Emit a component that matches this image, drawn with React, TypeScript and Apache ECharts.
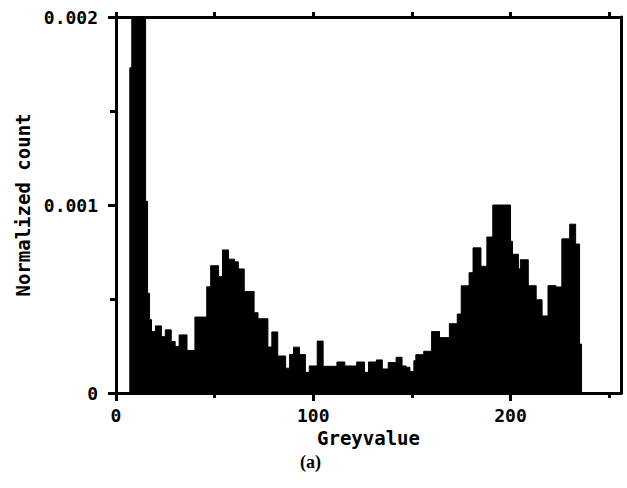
import React, { useEffect, useRef } from "react";
import * as echarts from "echarts";

// Normalized count per greyvalue (bin g covers [g, g+1)); values above 0.002 are clipped by the axis.
const counts: number[] = [
  // 0-9
  0, 0, 0, 0, 0, 0, 0, 17.3e-4, 25e-4, 25e-4,
  // 10-19
  25e-4, 25e-4, 25e-4, 25e-4, 25e-4, 10.2e-4, 5.3e-4, 3.9e-4, 3.27e-4, 3.27e-4,
  // 20-29
  3.57e-4, 3.57e-4, 3.57e-4, 3.0e-4, 3.0e-4, 3.36e-4, 3.36e-4, 3.36e-4, 2.74e-4, 2.74e-4,
  // 30-39
  2.47e-4, 2.47e-4, 3.09e-4, 3.09e-4, 3.09e-4, 3.09e-4, 2.26e-4, 2.26e-4, 2.26e-4, 2.26e-4,
  // 40-49
  4.04e-4, 4.04e-4, 4.04e-4, 4.04e-4, 4.04e-4, 4.04e-4, 5.65e-4, 5.65e-4, 6.77e-4, 6.77e-4,
  // 50-59
  6.77e-4, 6.77e-4, 6.19e-4, 6.19e-4, 7.61e-4, 7.61e-4, 7.61e-4, 7.12e-4, 7.12e-4, 7.12e-4,
  // 60-69
  6.98e-4, 6.98e-4, 6.6e-4, 6.6e-4, 6.6e-4, 5.4e-4, 5.4e-4, 5.4e-4, 5.4e-4, 5.4e-4,
  // 70-79
  4.27e-4, 4.27e-4, 3.95e-4, 3.95e-4, 3.95e-4, 3.95e-4, 3.95e-4, 2.45e-4, 2.45e-4, 3.25e-4,
  // 80-89
  3.25e-4, 3.25e-4, 1.97e-4, 1.97e-4, 1.97e-4, 1.97e-4, 1.32e-4, 1.32e-4, 2.05e-4, 2.05e-4,
  // 90-99
  2.44e-4, 2.44e-4, 2.44e-4, 2.05e-4, 2.05e-4, 2.05e-4, 1.1e-4, 1.1e-4, 1.44e-4, 1.44e-4,
  // 100-109
  1.44e-4, 1.44e-4, 2.76e-4, 2.76e-4, 2.76e-4, 1.42e-4, 1.42e-4, 1.42e-4, 1.42e-4, 1.42e-4,
  // 110-119
  1.42e-4, 1.42e-4, 1.65e-4, 1.65e-4, 1.65e-4, 1.65e-4, 1.44e-4, 1.44e-4, 1.44e-4, 1.44e-4,
  // 120-129
  1.44e-4, 1.44e-4, 1.65e-4, 1.65e-4, 1.65e-4, 1.65e-4, 1.1e-4, 1.1e-4, 1.65e-4, 1.65e-4,
  // 130-139
  1.65e-4, 1.65e-4, 1.76e-4, 1.76e-4, 1.76e-4, 1.28e-4, 1.28e-4, 1.28e-4, 1.62e-4, 1.62e-4,
  // 140-149
  1.62e-4, 1.62e-4, 1.9e-4, 1.9e-4, 1.9e-4, 1.44e-4, 1.44e-4, 1.37e-4, 1.37e-4, 1.14e-4,
  // 150-159
  1.14e-4, 1.72e-4, 2.04e-4, 2.04e-4, 2.04e-4, 2.04e-4, 2.22e-4, 2.22e-4, 2.22e-4, 2.22e-4,
  // 160-169
  3.27e-4, 3.27e-4, 3.27e-4, 3.27e-4, 2.95e-4, 2.95e-4, 2.95e-4, 2.95e-4, 2.95e-4, 3.69e-4,
  // 170-179
  3.69e-4, 3.69e-4, 3.69e-4, 4.2e-4, 4.2e-4, 5.7e-4, 5.7e-4, 5.7e-4, 5.7e-4, 6.4e-4,
  // 180-189
  6.4e-4, 7.72e-4, 7.72e-4, 7.72e-4, 7.72e-4, 6.74e-4, 6.74e-4, 6.74e-4, 8.3e-4, 8.3e-4,
  // 190-199
  8.3e-4, 10.0e-4, 10.0e-4, 10.0e-4, 10.0e-4, 10.0e-4, 10.0e-4, 10.0e-4, 10.0e-4, 10.0e-4,
  // 200-209
  8.07e-4, 7.38e-4, 7.38e-4, 7.38e-4, 6.6e-4, 7.09e-4, 7.09e-4, 7.09e-4, 7.09e-4, 5.71e-4,
  // 210-219
  5.71e-4, 5.71e-4, 5.71e-4, 4.96e-4, 4.96e-4, 4.96e-4, 4.1e-4, 4.1e-4, 4.1e-4, 5.71e-4,
  // 220-229
  5.71e-4, 5.71e-4, 5.71e-4, 5.64e-4, 5.64e-4, 5.64e-4, 8.2e-4, 8.2e-4, 8.2e-4, 8.2e-4,
  // 230-239
  8.98e-4, 8.98e-4, 8.98e-4, 7.92e-4, 7.92e-4, 2.6e-4, 0, 0, 0, 0,
  // 240-249
  0, 0, 0, 0, 0, 0, 0, 0, 0, 0,
  // 250-255
  0, 0, 0, 0, 0, 0,
];

const xMajorTicks = [0, 100, 200];
const xMinorTicks = [50, 150, 250];
const xTopTicks = [0, 50, 100, 150, 200, 250];
const yMajorTicks = [0, 0.001, 0.002];
const yTickLabels = ["0", "0.001", "0.002"];
const yMinorTicks = [0.0005, 0.0015];

const X_MAX = 256;
const Y_MAX = 0.002;

const tickFont = {
  fontFamily: "DejaVu Sans Mono",
  fontWeight: "bold" as const,
  fontSize: 18,
  color: "#000",
};
const nameFont = { ...tickFont, fontSize: 19 };

export default function App() {
  const ref = useRef<HTMLDivElement>(null);

  useEffect(() => {
    if (!ref.current) return;
    const chart = echarts.init(ref.current, undefined, { renderer: "svg" });
    const axisLineStyle = { color: "#000", width: 3 };
    const line = { show: true, onZero: false, lineStyle: axisLineStyle };
    const noLine = { show: false, onZero: false };

    chart.setOption({
      animation: false,
      backgroundColor: "#fff",
      grid: { left: 116, right: 6, top: 17, bottom: 95, containLabel: false },
      xAxis: [
        {
          type: "value",
          position: "bottom",
          min: 0,
          max: X_MAX,
          axisLine: line,
          axisTick: { show: true, length: 8, lineStyle: axisLineStyle, customValues: xMajorTicks },
          axisLabel: { ...tickFont, margin: 13, customValues: xMajorTicks },
          splitLine: { show: false },
          name: "Greyvalue",
          nameLocation: "middle",
          nameGap: 34,
          nameTextStyle: nameFont,
        },
        {
          type: "value",
          position: "bottom",
          min: 0,
          max: X_MAX,
          axisLine: noLine,
          axisTick: { show: true, length: 5, lineStyle: axisLineStyle, customValues: xMinorTicks },
          axisLabel: { show: false },
          splitLine: { show: false },
        },
        {
          type: "value",
          position: "top",
          min: 0,
          max: X_MAX,
          axisLine: line,
          axisTick: { show: true, length: 5, lineStyle: axisLineStyle, customValues: xTopTicks },
          axisLabel: { show: false },
          splitLine: { show: false },
        },
      ],
      yAxis: [
        {
          type: "value",
          position: "left",
          min: 0,
          max: Y_MAX,
          axisLine: line,
          axisTick: { show: true, length: 8, lineStyle: axisLineStyle, customValues: yMajorTicks },
          axisLabel: {
            ...tickFont,
            margin: 18,
            customValues: yMajorTicks,
            formatter: (v: number) => {
              const i = yMajorTicks.findIndex((t) => Math.abs(t - v) < 1e-9);
              return i >= 0 ? yTickLabels[i] : "";
            },
          },
          splitLine: { show: false },
          name: "Normalized count",
          nameLocation: "middle",
          nameGap: 84,
          nameTextStyle: nameFont,
        },
        {
          type: "value",
          position: "left",
          min: 0,
          max: Y_MAX,
          axisLine: noLine,
          axisTick: { show: true, length: 6, lineStyle: axisLineStyle, customValues: yMinorTicks },
          axisLabel: { show: false },
          splitLine: { show: false },
        },
        {
          type: "value",
          position: "right",
          min: 0,
          max: Y_MAX,
          axisLine: line,
          axisTick: { show: false },
          axisLabel: { show: false },
          splitLine: { show: false },
        },
      ],
      graphic: [
        {
          type: "text",
          left: 300,
          top: 453,
          style: {
            text: "(a)",
            font: "bold 18px 'Liberation Serif'",
            fill: "#000",
          },
        },
      ],
      series: [
        {
          type: "line",
          xAxisIndex: 0,
          yAxisIndex: 0,
          step: "end",
          symbol: "none",
          clip: true,
          data: counts.map((v, g) => [g, v]),
          lineStyle: { color: "#000", width: 1 },
          areaStyle: { color: "#000", opacity: 1 },
        },
      ],
    });

    return () => chart.dispose();
  }, []);

  return (
    <div
      ref={ref}
      style={{ position: "fixed", left: 0, top: 0, width: 627, height: 488, background: "#fff" }}
    />
  );
}
